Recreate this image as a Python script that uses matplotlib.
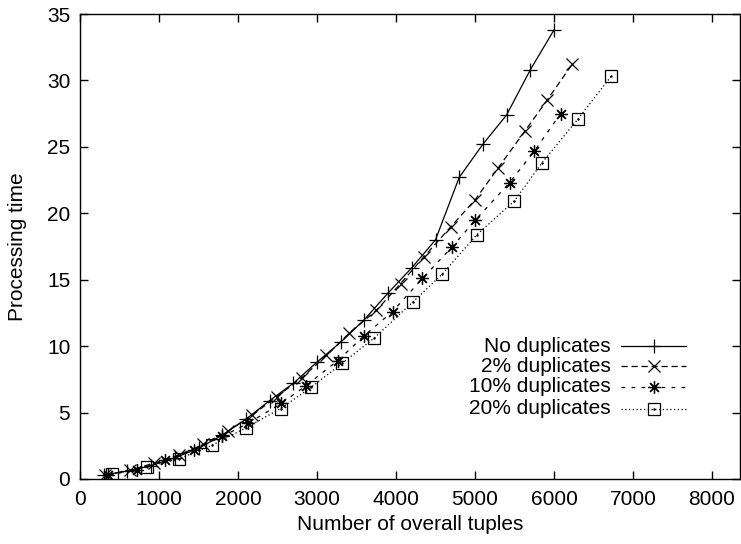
import matplotlib
matplotlib.use("Agg")
import matplotlib.pyplot as plt

plt.rcParams['font.family'] = ['Liberation Sans', 'DejaVu Sans']

# No duplicates
x_nodup = [300, 600, 900, 1200, 1500, 1800, 2100, 2400, 2700, 3000,
           3300, 3600, 3900, 4200, 4500, 4800, 5100, 5400, 5700, 6000]
y_nodup = [0.3, 0.6, 1.0, 1.6, 2.3, 3.3, 4.5, 5.9, 7.2, 8.8,
           10.3, 12.0, 14.0, 15.9, 18.0, 22.7, 25.2, 27.4, 30.8, 33.8]

# 2% duplicates
x_dup2 = [320, 630, 940, 1250, 1560, 1870, 2180, 2490, 2804, 3120,
          3411, 3753, 4057, 4350, 4696, 5000, 5291, 5633, 5911, 6228]
y_dup2 = [0.3, 0.65, 1.2, 1.8, 2.6, 3.6, 4.8, 6.2, 7.6, 9.3,
          11.0, 12.7, 14.7, 16.7, 19.0, 21.0, 23.4, 26.2, 28.5, 31.2]

# 10% duplicates
x_dup10 = [360, 720, 1080, 1440, 1800, 2130, 2550, 2855, 3260, 3601,
           3956, 4335, 4715, 5006, 5437, 5753, 6084]
y_dup10 = [0.3, 0.7, 1.4, 2.2, 3.2, 4.2, 5.7, 7.0, 8.9, 10.8,
           12.6, 15.1, 17.5, 19.5, 22.3, 24.7, 27.5]

# 20% duplicates
x_dup20 = [400, 843, 1247, 1677, 2095, 2538, 2925, 3316, 3722, 4209,
           4582, 5025, 5494, 5848, 6304, 6722]
y_dup20 = [0.38, 0.9, 1.5, 2.56, 3.84, 5.3, 6.9, 8.7, 10.6, 13.3,
           15.4, 18.4, 20.9, 23.8, 27.1, 30.3]

labels = ["No duplicates", "2% duplicates", "10% duplicates", "20% duplicates"]

fig = plt.figure(figsize=(7.41, 5.44), dpi=100)
ax = fig.add_axes([80 / 741, 1 - 479 / 544, 660 / 741, 465 / 544])

lw = 0.9
fs = 15
styles = [
    dict(ls='-', marker='+', ms=10, mew=0.9),
    dict(ls=(0, (5, 3)), marker='x', ms=8, mew=0.9),
    dict(ls=(0, (3, 5)), marker=(8, 2, 0), ms=9, mew=0.9),
    dict(ls=(0, (1, 2)), marker='s', ms=8, mew=0.9, mfc='none'),
]
series = [(x_nodup, y_nodup), (x_dup2, y_dup2), (x_dup10, y_dup10), (x_dup20, y_dup20)]

for (xs, ys), st in zip(series, styles):
    ax.plot(xs, ys, color='black', lw=lw, **st)
# centre dot of gnuplot's open square
ax.plot(x_dup20, y_dup20, ls='none', marker='.', ms=1.5, color='black')

# legend, gnuplot style: text right aligned, sample on the right
leg_y = [346, 366, 387, 409]
for lab, st, py in zip(labels, styles, leg_y):
    ya = (479 - py) / 465
    xa0, xa1 = (621 - 80) / 660, (686 - 80) / 660
    ax.text((611 - 80) / 660, ya, lab, transform=ax.transAxes, ha='right',
            va='center', fontsize=fs)
    ax.plot([xa0, xa1], [ya, ya], transform=ax.transAxes, color='black',
            lw=lw, ls=st['ls'])
    mk = {k: v for k, v in st.items() if k != 'ls'}
    ax.plot([(xa0 + xa1) / 2], [ya], transform=ax.transAxes, color='black',
            ls='none', **mk)
    if st['marker'] == 's':
        ax.plot([(xa0 + xa1) / 2], [ya], transform=ax.transAxes, ls='none',
                marker='.', ms=1.5, color='black')

ax.set_xlim(0, (740 - 80) / 79 * 1000)
ax.set_ylim(0, 35)
ax.set_xticks(range(0, 8001, 1000))
ax.set_yticks(range(0, 36, 5))
ax.tick_params(direction='in', length=6, width=1, top=True, right=True,
               labelsize=fs)
ax.tick_params(axis='x', pad=8)
ax.tick_params(axis='y', pad=7)
for sp in ax.spines.values():
    sp.set_linewidth(1)

ax.set_xlabel("Number of overall tuples", fontsize=fs, labelpad=4)
ax.set_ylabel("Processing time", fontsize=fs, labelpad=14)

fig.savefig("out.png", dpi=100)
